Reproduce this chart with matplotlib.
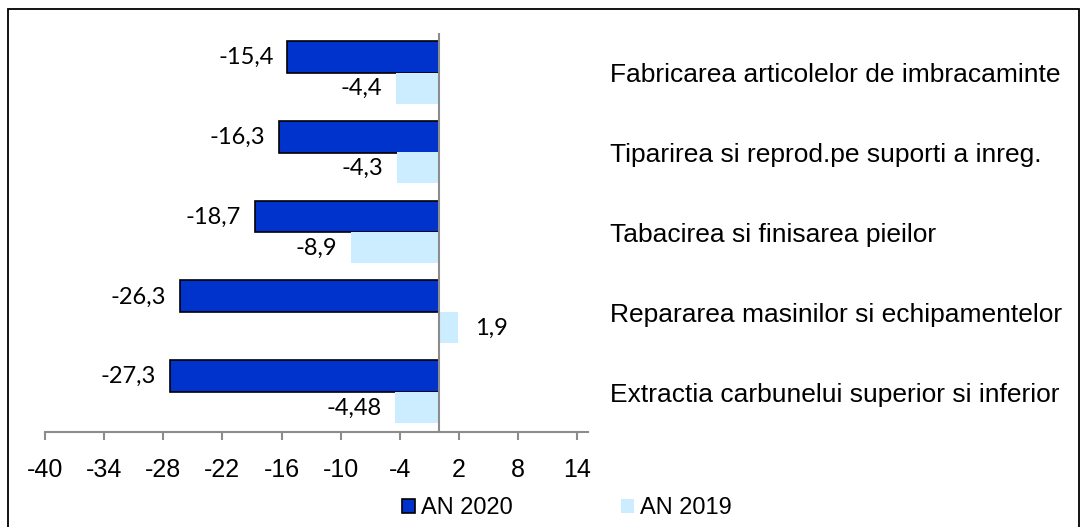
import matplotlib
matplotlib.use("Agg")
import matplotlib.pyplot as plt
from matplotlib.patches import Rectangle, Patch

categories = [
    "Fabricarea articolelor de imbracaminte",
    "Tiparirea si reprod.pe suporti a inreg.",
    "Tabacirea si finisarea pieilor",
    "Repararea masinilor si echipamentelor",
    "Extractia carbunelui superior si inferior",
]
an2020 = [-15.4, -16.3, -18.7, -26.3, -27.3]
an2019 = [-4.4, -4.3, -8.9, 1.9, -4.48]
labels2020 = ["-15,4", "-16,3", "-18,7", "-26,3", "-27,3"]
labels2019 = ["-4,4", "-4,3", "-8,9", "1,9", "-4,48"]
xticks = [-40, -34, -28, -22, -16, -10, -4, 2, 8, 14]

W, H = 1084, 527
fig = plt.figure(figsize=(W / 100, H / 100), dpi=100)
fig.patch.set_facecolor("white")

# outer border
fig.add_artist(Rectangle((8 / W, -0.01), (1079 - 8) / W, (H - 9) / H + 0.01,
                         transform=fig.transFigure, fill=False, ec="black", lw=1.3))

left, right, top, bottom = 45, 588, 33, 432
ax = fig.add_axes([left / W, (H - bottom) / H, (right - left) / W, (bottom - top) / H])

dark = "#0033CC"
light = "#CCECFF"
ys = list(range(len(categories)))
ax.barh([y - 0.2 for y in ys], an2020, height=0.4, color=dark, edgecolor="black", linewidth=1.2, zorder=2)
ax.barh([y + 0.19 for y in ys], an2019, height=0.39, color=light, edgecolor="none", zorder=2)

ax.set_xlim(-40, 15.1)
ax.set_ylim(4.5, -0.5)
ax.axvline(0, color="#8C8C8C", lw=1.5, zorder=3)

lab_font = dict(family=["Lato", "DejaVu Sans"], fontsize=17)
for y, v, t in zip(ys, an2020, labels2020):
    ax.annotate(t, (v, y - 0.2), xytext=(-10, -0.5), textcoords="offset points",
                ha="right", va="center", **lab_font)
for y, v, t in zip(ys, an2019, labels2019):
    off = 12 if v > 0 else -10
    ax.annotate(t, (v, y + 0.19), xytext=(off, -0.5), textcoords="offset points",
                ha="left" if v > 0 else "right", va="center", **lab_font)

for s in ["left", "right", "top"]:
    ax.spines[s].set_visible(False)
ax.spines["bottom"].set_color("#8C8C8C")
ax.spines["bottom"].set_linewidth(1.5)
ax.set_xticks(xticks)
ax.set_xticklabels([str(x) for x in xticks], fontsize=18, family=["Liberation Sans", "DejaVu Sans"])
ax.tick_params(axis="x", direction="out", length=6, width=1.5, color="#8C8C8C", pad=13)

ax.yaxis.tick_right()
ax.set_yticks(ys)
ax.set_yticklabels(categories, fontsize=19, family=["Liberation Sans", "DejaVu Sans"], ha="left")
ax.tick_params(axis="y", length=0, pad=16)

handles = [Patch(facecolor=dark, edgecolor="black", linewidth=1.2),
           Patch(facecolor=light, edgecolor="none")]
fig.legend(handles, ["AN 2020", "AN 2019"], loc="center",
           bbox_to_anchor=(567 / W, (H - 508) / H), ncol=2, frameon=False,
           prop=dict(family=["Liberation Sans", "DejaVu Sans"], size=17),
           handlelength=0.55, handleheight=0.55, handletextpad=0.25, columnspacing=4.6)

fig.savefig("out.png", dpi=100, facecolor="white")
